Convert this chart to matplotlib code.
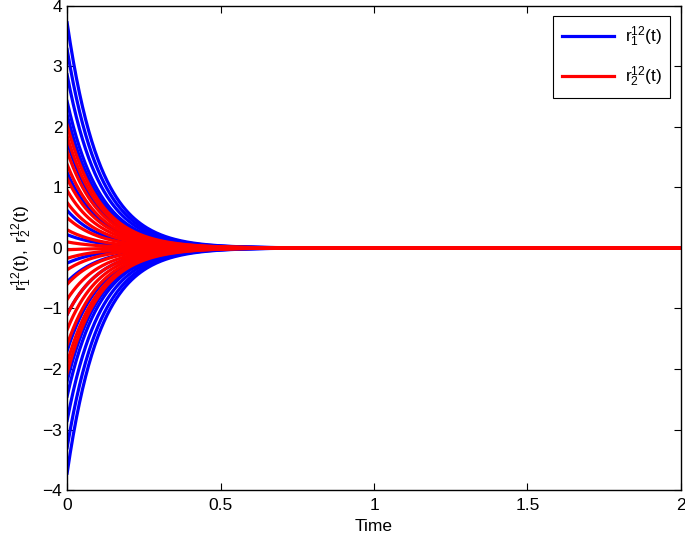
import numpy as np
import matplotlib.pyplot as plt

plt.rcParams['font.family'] = ['Liberation Sans', 'DejaVu Sans']
plt.rcParams['mathtext.fontset'] = 'custom'
plt.rcParams['mathtext.rm'] = 'Liberation Sans'
plt.rcParams['mathtext.it'] = 'Liberation Sans'

# initial values at t = 0
r1_init = [3.72, 3.28, 2.86, 2.42, 2.2, 1.75, 1.25, 0.62, 0.22,
           -0.25, -0.56, -1.1, -1.7, -2.2, -2.45, -2.85, -3.3, -3.72]
r2_init = [2.03, 1.85, 1.6, 1.38, 1.15, 0.95, 0.75, 0.5, 0.3, 0.1,
           -0.03, -0.17, -0.36, -0.6, -0.85, -1.1, -1.35, -1.6, -1.9, -2.07]
decay_rate = 9.3
t = np.linspace(0, 2, 400)

fig = plt.figure(figsize=(6.85, 5.35), dpi=100)
ax = fig.add_axes([0.098, 0.084, 0.896, 0.905])

for i, r0 in enumerate(r1_init):
    ax.plot(t, r0 * np.exp(-decay_rate * t), color='#0000ff', lw=2.3,
            label=r'$\mathregular{r_1^{12}(t)}$' if i == 0 else None)
for i, r0 in enumerate(r2_init):
    ax.plot(t, r0 * np.exp(-decay_rate * t), color='#ff0000', lw=2.3,
            label=r'$\mathregular{r_2^{12}(t)}$' if i == 0 else None)

ax.set_xlim(0, 2)
ax.set_ylim(-4, 4)
ax.set_xticks([0, 0.5, 1, 1.5, 2])
ax.set_xticklabels(['0', '0.5', '1', '1.5', '2'])
ax.set_yticks(range(-4, 5))
ax.tick_params(direction='in', top=True, right=True, labelsize=12.5, length=5)
ax.tick_params(axis='x', pad=6)
for s in ax.spines.values():
    s.set_linewidth(1)
ax.set_xlabel('Time', fontsize=12.5, labelpad=4)
ax.set_ylabel(r'$\mathregular{r_1^{12}(t),\ r_2^{12}(t)}$', fontsize=12.5, labelpad=6)

leg = ax.legend(loc='upper right', fontsize=12.5, fancybox=False, framealpha=1,
                edgecolor='black', handlelength=3.0, handletextpad=0.6,
                labelspacing=0.9, borderaxespad=0.6, borderpad=0.5)
leg.get_frame().set_linewidth(0.8)

fig.savefig('out.png', dpi=100)
